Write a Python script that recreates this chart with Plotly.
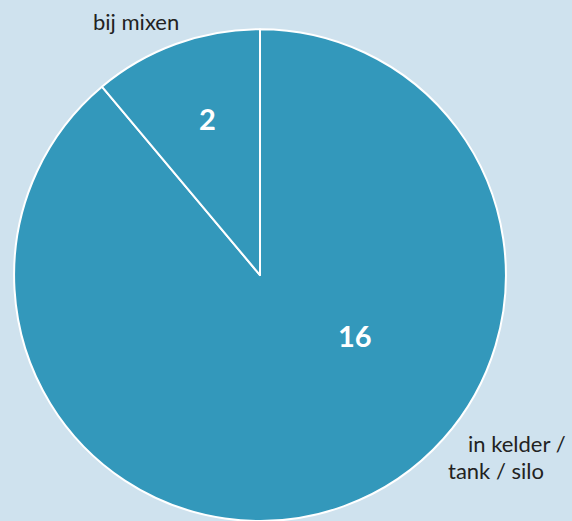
import plotly.graph_objects as go

labels = ["in kelder / tank / silo", "bij mixen"]
values = [16, 2]
outer_lines = [["in kelder /", "tank / silo"], ["bij mixen"]]

W, H = 572, 521
fig = go.Figure()
fig.add_trace(go.Pie(
    labels=labels,
    values=values,
    sort=False,
    direction="clockwise",
    rotation=0,
    textinfo="none",
    marker=dict(colors=["#3398bb", "#3398bb"], line=dict(color="white", width=2)),
    domain=dict(x=[14 / W, 506 / W], y=[0, 0.944]),
    showlegend=False,
    hoverinfo="label+value",
))

# value labels inside the slices
value_pos = [(355, 335), (207, 118)]
for v, (px, py) in zip(values, value_pos):
    fig.add_annotation(text=str(v), x=px / W, y=1 - py / H, xref="paper", yref="paper",
                       xanchor="center", yanchor="middle", showarrow=False,
                       font=dict(family="Lato", size=29, color="white", weight="bold"))

# category labels outside the pie
label_pos = [[(466, 443), (446, 470)], [(91, 21)]]
for lines, positions in zip(outer_lines, label_pos):
    for t, (px, py) in zip(lines, positions):
        fig.add_annotation(text=t, x=px / W, y=1 - py / H, xref="paper", yref="paper",
                           xanchor="left", yanchor="middle", showarrow=False,
                           font=dict(family="Lato", size=22, color="#222222"))

fig.update_layout(
    width=W, height=H,
    margin=dict(l=0, r=0, t=0, b=0),
    paper_bgcolor="#cfe2ee",
    plot_bgcolor="#cfe2ee",
)
fig.write_html("out.html")
